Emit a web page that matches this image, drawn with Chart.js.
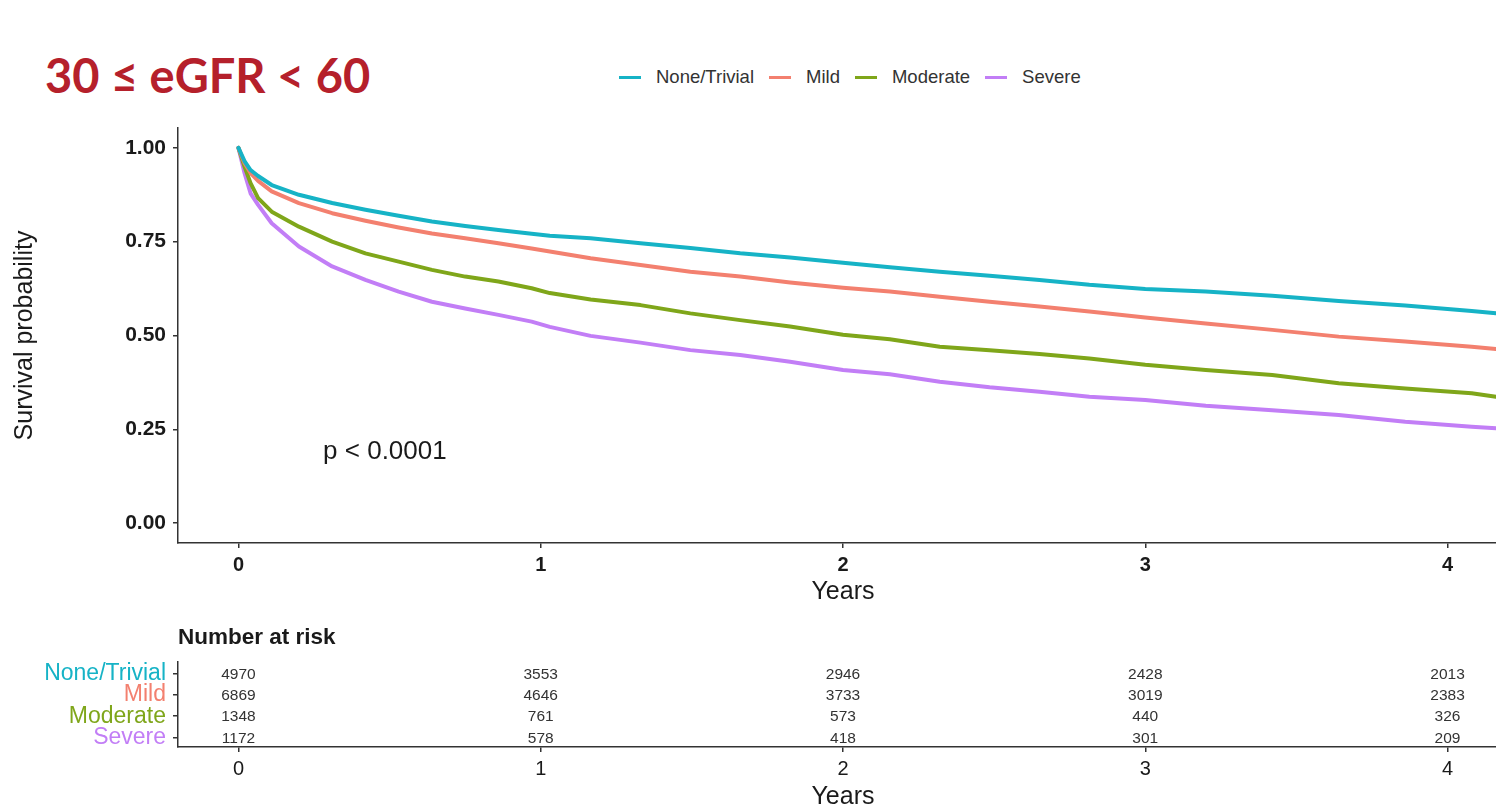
<!DOCTYPE html>
<html>
<head>
<meta charset="utf-8">
<script src="https://cdn.jsdelivr.net/npm/chart.js@4.4.0/dist/chart.umd.min.js"></script>
<style>
  html, body { margin: 0; padding: 0; background: #ffffff; overflow: hidden; width: 1496px; height: 810px; }
  #title { position: absolute; left: 45px; top: 45px; font: 700 47px Lato, "Open Sans", sans-serif; color: #b5202b; white-space: nowrap; line-height: 60px; }
  #legend { position: absolute; left: 619px; top: 66px; height: 22px; display: flex; align-items: center; font: 18.5px "Liberation Sans", Arial, sans-serif; color: #333; }
  #legend .item { display: flex; align-items: center; margin-right: 15px; }
  #legend .swatch { width: 22px; height: 3px; margin-right: 15px; }
  #km { position: absolute; left: 0; top: 0; }
  #risk { position: absolute; left: 0; top: 601px; }
</style>
</head>
<body>
<div id="title">30 ≤ eGFR &lt; 60</div>
<div id="legend"></div>
<canvas id="km" width="1508" height="610"></canvas>
<canvas id="risk" width="1508" height="211"></canvas>
<script>
// Groups and their colours
const groups = ['None/Trivial', 'Mild', 'Moderate', 'Severe'];
const groupColors = ['#16b3c6', '#f3806f', '#7fa61a', '#c27ef6'];

// Kaplan-Meier survival estimates (years of follow-up)
const years = [0, 0.02, 0.04, 0.065, 0.11, 0.2, 0.31, 0.42, 0.53, 0.64, 0.75, 0.86, 0.97, 1.03,
               1.165, 1.33, 1.495, 1.66, 1.825, 2.0, 2.155, 2.32, 2.485, 2.65, 2.815, 3.0,
               3.2, 3.42, 3.64, 3.86, 4.08, 4.16];
const survNone = [1, 0.965, 0.941, 0.925, 0.901, 0.875, 0.853, 0.835, 0.819, 0.804, 0.792, 0.781, 0.771, 0.766,
                  0.759, 0.746, 0.733, 0.719, 0.708, 0.694, 0.682, 0.670, 0.659, 0.648, 0.635, 0.624,
                  0.617, 0.606, 0.592, 0.580, 0.565, 0.559];
const survMild = [1, 0.960, 0.933, 0.912, 0.884, 0.853, 0.826, 0.806, 0.788, 0.772, 0.759, 0.746, 0.732, 0.724,
                  0.706, 0.688, 0.670, 0.657, 0.641, 0.627, 0.617, 0.603, 0.590, 0.577, 0.564, 0.548,
                  0.532, 0.515, 0.497, 0.484, 0.470, 0.464];
const survModerate = [1, 0.950, 0.906, 0.866, 0.830, 0.790, 0.750, 0.719, 0.697, 0.675, 0.657, 0.644, 0.626, 0.613,
                      0.596, 0.581, 0.559, 0.541, 0.524, 0.502, 0.490, 0.470, 0.461, 0.451, 0.439, 0.422,
                      0.408, 0.395, 0.373, 0.359, 0.346, 0.337];
const survSevere = [1, 0.933, 0.879, 0.848, 0.799, 0.737, 0.684, 0.648, 0.617, 0.590, 0.572, 0.555, 0.537, 0.523,
                    0.499, 0.481, 0.461, 0.448, 0.430, 0.408, 0.397, 0.377, 0.362, 0.350, 0.337, 0.328,
                    0.313, 0.301, 0.288, 0.270, 0.257, 0.253];

// Number at risk table
const riskTimes = [0, 1, 2, 3, 4];
const riskNone = [4970, 3553, 2946, 2428, 2013];
const riskMild = [6869, 4646, 3733, 3019, 2383];
const riskModerate = [1348, 761, 573, 440, 326];
const riskSevere = [1172, 578, 418, 301, 209];

// Axis ticks and annotation
const xTicks = [0, 1, 2, 3, 4];
const yTicks = [0, 0.25, 0.5, 0.75, 1];
const pValueText = 'p < 0.0001';
const pValuePos = { x: 0.28, y: 0.19 };

const survSeries = [survNone, survMild, survModerate, survSevere];
const riskSeries = [riskNone, riskMild, riskModerate, riskSevere];

const FONT = '"Liberation Sans", Arial, Helvetica, sans-serif';
const AXIS = '#333333';
const INK = '#1a1a1a';

// Legend row
const legendEl = document.getElementById('legend');
groups.forEach((g, i) => {
  const item = document.createElement('div');
  item.className = 'item';
  const sw = document.createElement('div');
  sw.className = 'swatch';
  sw.style.background = groupColors[i];
  const label = document.createElement('span');
  label.textContent = g;
  item.appendChild(sw);
  item.appendChild(label);
  legendEl.appendChild(item);
});

const sharedX = (tickFont, height, titlePadBottom) => ({
  type: 'linear',
  min: -0.2,
  max: 4.2,
  afterBuildTicks: s => { s.ticks = xTicks.map(v => ({ value: v })); },
  afterFit: s => { s.height = height; },
  border: { display: true, color: AXIS, width: 1.5 },
  grid: { drawOnChartArea: false, drawTicks: true, tickLength: 5, color: AXIS, lineWidth: 1.5 },
  ticks: { padding: 5, color: INK, font: tickFont, maxRotation: 0, autoSkip: false, callback: v => String(v) },
  title: { display: true, text: 'Years', color: INK, font: { family: FONT, size: 25 }, padding: { top: 0, bottom: titlePadBottom } }
});

// p-value annotation placed in data coordinates
const pValuePlugin = {
  id: 'pValue',
  afterDatasetsDraw(chart) {
    const { ctx, scales } = chart;
    ctx.save();
    ctx.font = '26px ' + FONT;
    ctx.fillStyle = INK;
    ctx.textAlign = 'left';
    ctx.textBaseline = 'middle';
    ctx.fillText(pValueText, scales.x.getPixelForValue(pValuePos.x), scales.y.getPixelForValue(pValuePos.y));
    ctx.restore();
  }
};

new Chart(document.getElementById('km'), {
  type: 'line',
  data: {
    datasets: survSeries.map((s, i) => ({
      label: groups[i],
      data: years.map((t, j) => ({ x: t, y: s[j] })),
      borderColor: groupColors[i],
      backgroundColor: groupColors[i],
      borderWidth: 4,
      borderJoinStyle: 'round',
      borderCapStyle: 'round',
      pointRadius: 0,
      tension: 0,
      fill: false
    }))
  },
  options: {
    responsive: false,
    animation: false,
    devicePixelRatio: 1,
    layout: { padding: { top: 128, left: 0, right: 0, bottom: 0 } },
    plugins: { legend: { display: false }, tooltip: { enabled: false } },
    scales: {
      x: sharedX({ family: FONT, size: 20, weight: 'bold' }, 67, 3),
      y: {
        type: 'linear',
        min: -0.053,
        max: 1.053,
        afterBuildTicks: s => { s.ticks = yTicks.map(v => ({ value: v })); },
        afterFit: s => { s.width = 178; },
        border: { display: true, color: AXIS, width: 1.5 },
        grid: { drawOnChartArea: false, drawTicks: true, tickLength: 5, color: AXIS, lineWidth: 1.5 },
        ticks: { padding: 7, color: INK, font: { family: FONT, size: 21, weight: 'bold' }, autoSkip: false, callback: v => Number(v).toFixed(2) },
        title: { display: true, text: 'Survival probability', color: INK, font: { family: FONT, size: 25 }, padding: { top: 10, bottom: 0 } }
      }
    }
  },
  plugins: [pValuePlugin]
});

// Risk table: counts written at each (time, group row) position
const riskTablePlugin = {
  id: 'riskTable',
  afterDatasetsDraw(chart) {
    const { ctx, scales, chartArea } = chart;
    ctx.save();
    ctx.font = '15.5px ' + FONT;
    ctx.fillStyle = '#333';
    ctx.textAlign = 'center';
    ctx.textBaseline = 'middle';
    chart.data.datasets.forEach(ds => {
      ds.data.forEach(p => {
        ctx.fillText(String(p.n), scales.x.getPixelForValue(p.x), scales.y.getPixelForValue(p.y) + 1);
      });
    });
    ctx.font = 'bold 22.5px ' + FONT;
    ctx.fillStyle = INK;
    ctx.textAlign = 'left';
    ctx.fillText('Number at risk', chartArea.left, 37);
    ctx.restore();
  }
};

new Chart(document.getElementById('risk'), {
  type: 'scatter',
  data: {
    datasets: riskSeries.map((r, i) => ({
      label: groups[i],
      data: riskTimes.map((t, j) => ({ x: t, y: i + 1, n: r[j] })),
      pointRadius: 0,
      showLine: false
    }))
  },
  options: {
    responsive: false,
    animation: false,
    devicePixelRatio: 1,
    layout: { padding: { top: 61, left: 0, right: 0, bottom: 0 } },
    plugins: { legend: { display: false }, tooltip: { enabled: false } },
    scales: {
      x: sharedX({ family: FONT, size: 20 }, 65, 0),
      y: {
        type: 'linear',
        reverse: true,
        min: 0.45,
        max: 4.45,
        afterBuildTicks: s => { s.ticks = [1, 2, 3, 4].map(v => ({ value: v })); },
        afterFit: s => { s.width = 178; },
        border: { display: true, color: AXIS, width: 1.5 },
        grid: { drawOnChartArea: false, drawTicks: true, tickLength: 5, color: AXIS, lineWidth: 1.5 },
        ticks: {
          padding: 7,
          autoSkip: false,
          font: { family: FONT, size: 23 },
          color: c => groupColors[c.index],
          callback: v => groups[v - 1]
        }
      }
    }
  },
  plugins: [riskTablePlugin]
});
</script>
</body>
</html>
